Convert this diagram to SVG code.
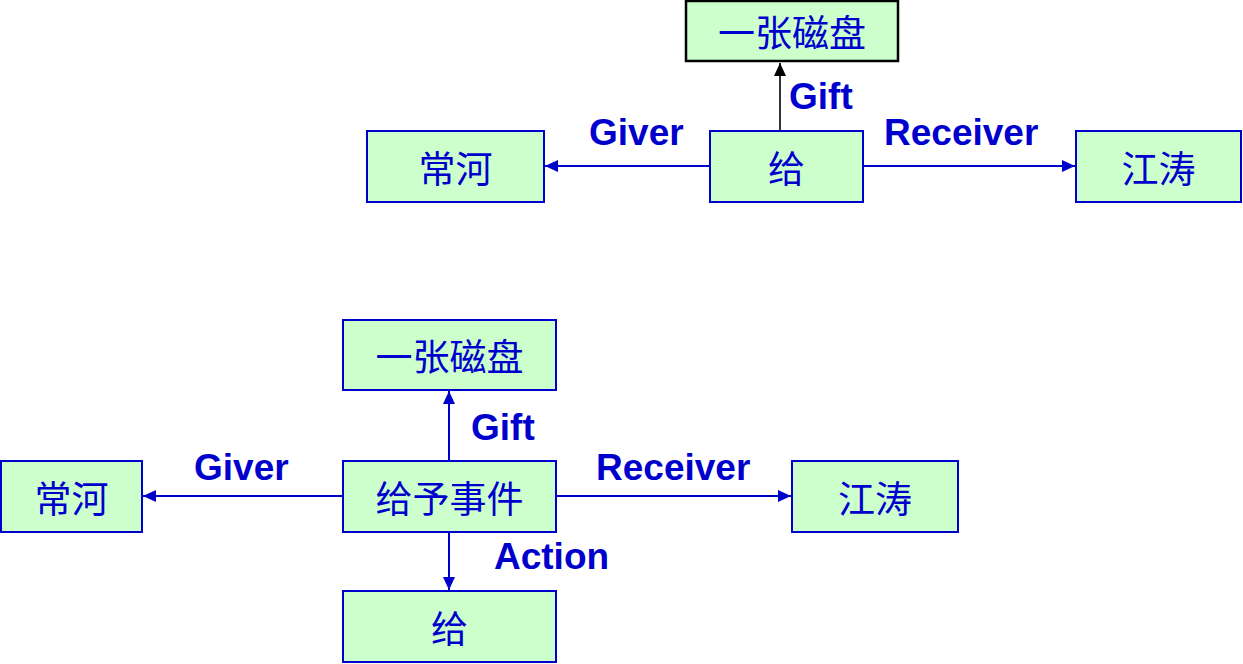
<svg xmlns="http://www.w3.org/2000/svg" width="1243" height="664" viewBox="0 0 1243 664">
<style>
.box{fill:#CCFFCC;stroke:#0000CC;stroke-width:2}
.boxk{fill:#CCFFCC;stroke:#000000;stroke-width:2.5}
.t{font-family:"Noto Sans CJK SC","Noto Sans CJK TC",sans-serif;font-size:37px;fill:#0000CC;text-anchor:middle;dominant-baseline:central}
.lbl{font-family:"Liberation Sans",Arial,sans-serif;font-weight:bold;font-size:37px;fill:#0000CC}
.ln{stroke:#0000CC;stroke-width:2;fill:none}
.lnk{stroke:#333333;stroke-width:2;fill:none}
</style>
<defs>
<marker id="ab" markerUnits="userSpaceOnUse" markerWidth="14" markerHeight="12" refX="13" refY="6" orient="auto">
<path d="M0,0 L13,6 L0,12 Z" fill="#0000CC"/>
</marker>
<marker id="ak" markerUnits="userSpaceOnUse" markerWidth="14" markerHeight="12" refX="13" refY="6" orient="auto">
<path d="M0,0 L13,6 L0,12 Z" fill="#000000"/>
</marker>
</defs>
<g id="connectors">
<line class="lnk" x1="780" y1="131" x2="780" y2="63" marker-end="url(#ak)"/>
<line class="ln" x1="710" y1="166" x2="545" y2="166" marker-end="url(#ab)"/>
<line class="ln" x1="863" y1="166" x2="1075" y2="166" marker-end="url(#ab)"/>
<line class="ln" x1="449" y1="461" x2="449" y2="391" marker-end="url(#ab)"/>
<line class="ln" x1="449" y1="532" x2="449" y2="590" marker-end="url(#ab)"/>
<line class="ln" x1="343" y1="496" x2="143" y2="496" marker-end="url(#ab)"/>
<line class="ln" x1="556" y1="496" x2="791" y2="496" marker-end="url(#ab)"/>
<text class="lbl" x="789" y="109">Gift</text>
<text class="lbl" x="589" y="145">Giver</text>
<text class="lbl" x="884" y="145">Receiver</text>
<text class="lbl" x="471" y="440">Gift</text>
<text class="lbl" x="194" y="480">Giver</text>
<text class="lbl" x="596" y="480">Receiver</text>
<text class="lbl" x="494" y="569">Action</text>
</g>
<g id="top-disk"><rect class="boxk" x="686" y="1" width="212" height="60"/><text class="t" x="792" y="31">一张磁盘</text></g>
<g id="top-changhe"><rect class="box" x="367" y="131" width="177" height="71"/><text class="t" x="455.5" y="166.5">常河</text></g>
<g id="top-gei"><rect class="box" x="710" y="131" width="153" height="71"/><text class="t" x="786.5" y="166.5">给</text></g>
<g id="top-jiangtao"><rect class="box" x="1076" y="131" width="165" height="71"/><text class="t" x="1158.5" y="166.5">江涛</text></g>
<g id="bot-disk"><rect class="box" x="343" y="320" width="213" height="70"/><text class="t" x="449.5" y="355">一张磁盘</text></g>
<g id="bot-changhe"><rect class="box" x="1" y="461" width="141" height="71"/><text class="t" x="71.5" y="496.5">常河</text></g>
<g id="bot-event"><rect class="box" x="343" y="461" width="213" height="71"/><text class="t" x="449.5" y="496.5">给予事件</text></g>
<g id="bot-jiangtao"><rect class="box" x="792" y="461" width="166" height="71"/><text class="t" x="875" y="496.5">江涛</text></g>
<g id="bot-gei"><rect class="box" x="343" y="591" width="213" height="71"/><text class="t" x="449.5" y="626.5">给</text></g>
</svg>
